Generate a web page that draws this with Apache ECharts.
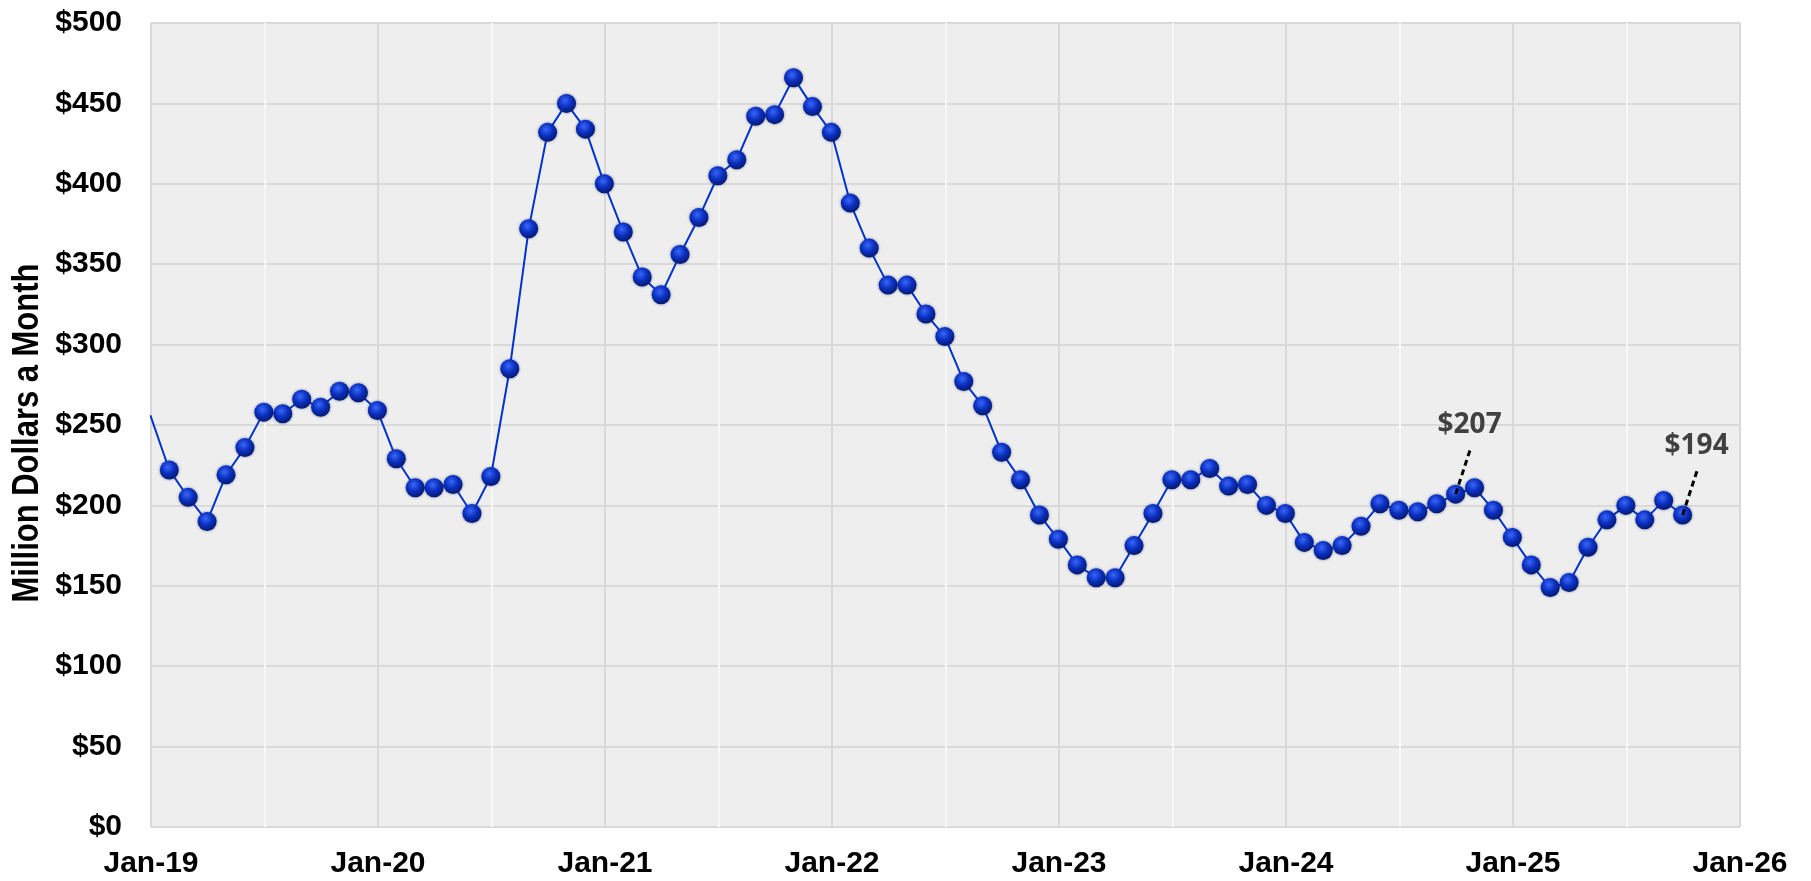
<!DOCTYPE html>
<html>
<head>
<meta charset="utf-8">
<title>Million Dollars a Month</title>
<script src="https://cdn.jsdelivr.net/npm/echarts@6/dist/echarts.min.js"></script>
<style>
  html, body { margin: 0; padding: 0; background: #fff; }
  #chart { width: 1811px; height: 881px; }
</style>
</head>
<body>
<div id="chart"></div>
<script>
// monthly values, Dec-18 .. Sep-25 (points sit at the end of each month)
const startYear = 2018;
const startMonth = 11; // December (0-based)
const values = [
  256,
  222, 205, 190, 219, 236, 258, 257, 266, 261, 271, 270, 259,
  229, 211, 211, 213, 195, 218, 285, 372, 432, 450, 434, 400,
  370, 342, 331, 356, 379, 405, 415, 442, 443, 466, 448, 432,
  388, 360, 337, 337, 319, 305, 277, 262, 233, 216, 194, 179,
  163, 155, 155, 175, 195, 216, 216, 223, 212, 213, 200, 195,
  177, 172, 175, 187, 201, 197, 196, 201, 207, 211, 197, 180,
  163, 149, 152, 174, 191, 200, 191, 203, 194
];
const monthNames = ["Jan", "Feb", "Mar", "Apr", "May", "Jun",
  "Jul", "Aug", "Sep", "Oct", "Nov", "Dec"];
const yTicks = [0, 50, 100, 150, 200, 250, 300, 350, 400, 450, 500];
const yTitle = "Million Dollars a Month";
const callouts = [
  { month: "Sep-24", text: "$207" },
  { month: "Sep-25", text: "$194" }
];

// month labels and x positions (months since Jan-19, last day of month)
const months = values.map((v, i) => {
  const m = startMonth + i;
  const y = startYear + Math.floor(m / 12);
  return monthNames[m % 12] + "-" + String(y).slice(2);
});
const xPos = values.map((v, i) => (startYear - 2019) * 12 + startMonth + i + 1 - 1 / 30);
const lineData = values.map((v, i) => [xPos[i], v]);
const calloutData = callouts.map(c => {
  const i = months.indexOf(c.month);
  return [xPos[i], values[i], c.text];
});

const chart = echarts.init(document.getElementById("chart"));
chart.setOption({
  animation: false,
  backgroundColor: "#ffffff",
  grid: {
    left: 151, right: 71, top: 23, bottom: 54,
    show: true, backgroundColor: "#eeeeee", borderWidth: 0
  },
  // narrow bold axis title (no condensed font installed, so squeeze a normal one)
  graphic: [
    {
      type: "text",
      x: 28, y: 433,
      rotation: Math.PI / 2,
      scaleX: 0.86,
      style: {
        text: yTitle,
        font: "bold 36px 'Liberation Sans', Arial, sans-serif",
        fill: "#000",
        align: "center", verticalAlign: "middle"
      }
    }
  ],
  xAxis: {
    type: "value",
    min: 0, max: 84, interval: 6,
    z: 1,
    axisLine: { show: false },
    axisTick: { show: false },
    splitLine: { show: true, lineStyle: { color: ["#d9d9d9", "#f7f7f7"], width: 2 } },
    axisLabel: {
      margin: 22,
      fontFamily: "Liberation Sans, Arial, sans-serif",
      fontWeight: "bold", fontSize: 30, color: "#000",
      formatter: v => (v % 12 === 0 ? "Jan-" + String(2019 + v / 12).slice(2) : "")
    }
  },
  yAxis: {
    type: "value",
    min: yTicks[0], max: yTicks[yTicks.length - 1], interval: yTicks[1] - yTicks[0],
    z: 0,
    axisLine: { show: false },
    axisTick: { show: false },
    splitLine: { show: true, lineStyle: { color: "#d9d9d9", width: 2 } },
    axisLabel: {
      margin: 29,
      fontFamily: "Liberation Sans, Arial, sans-serif",
      fontWeight: "bold", fontSize: 30, color: "#000",
      formatter: v => "$" + v
    }
  },
  series: [
    {
      type: "line",
      data: lineData,
      clip: true,
      showAllSymbol: true,
      symbol: "circle",
      symbolSize: 19,
      lineStyle: { color: "#0033cc", width: 2 },
      itemStyle: {
        color: {
          type: "radial", x: 0.42, y: 0.35, r: 0.62,
          colorStops: [
            { offset: 0, color: "#3a66fa" },
            { offset: 0.55, color: "#0a30c0" },
            { offset: 1, color: "#061b78" }
          ]
        },
        shadowBlur: 3,
        shadowColor: "rgba(0, 20, 90, 0.5)"
      },
      z: 2
    },
    {
      type: "custom",
      data: calloutData,
      z: 5,
      renderItem: function (params, api) {
        const p = api.coord([api.value(0), api.value(1)]);
        return {
          type: "group",
          children: [
            {
              type: "line",
              shape: { x1: p[0], y1: p[1], x2: p[0] + 15, y2: p[1] - 46 },
              style: { stroke: "#000", lineWidth: 3, lineDash: [6, 4] }
            },
            {
              type: "text",
              style: {
                x: p[0] + 14, y: p[1] - 69,
                text: calloutData[params.dataIndex][2],
                fill: "#404040",
                font: "bold 28px 'Open Sans', Lato, sans-serif",
                align: "center", verticalAlign: "middle"
              }
            }
          ]
        };
      }
    }
  ]
});
</script>
</body>
</html>
